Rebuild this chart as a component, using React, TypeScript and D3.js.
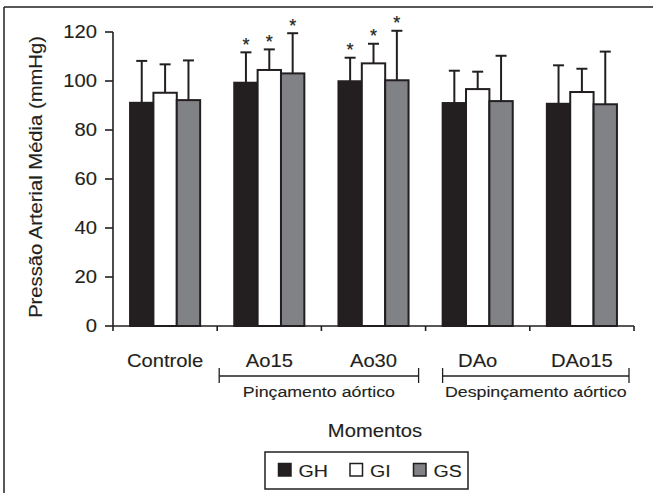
import React from "react";
import * as d3 from "d3";

const categories = ["Controle", "Ao15", "Ao30", "DAo", "DAo15"];
const seriesNames = ["GH", "GI", "GS"];
const ghMean = [91.1, 99.3, 99.9, 91.0, 90.7];
const giMean = [95.2, 104.5, 107.2, 96.7, 95.5];
const gsMean = [92.2, 103.1, 100.3, 91.8, 90.5];
const ghSd = [17.1, 12.4, 9.6, 13.2, 15.7];
const giSd = [11.6, 8.4, 8.0, 7.1, 9.5];
const gsSd = [16.2, 16.4, 20.2, 18.5, 21.5];
const significant = [false, true, true, false, false];
const yTicks = [0, 20, 40, 60, 80, 100, 120];
const bracketLabels = ["Pinçamento aórtico", "Despinçamento aórtico"];
const bracketStart = ["Ao15", "DAo"];
const bracketEnd = ["Ao30", "DAo15"];
const yTitle = "Pressão Arterial Média (mmHg)";
const xTitle = "Momentos";

const means = [ghMean, giMean, gsMean];
const sds = [ghSd, giSd, gsSd];
const colors = ["#231f20", "#ffffff", "#808285"];
const INK = "#231f20";
const FONT = "'Liberation Sans', Arial, sans-serif";
const SX = 1.155;

const left = 113, right = 634, top = 32, bottom = 326;

export default function App() {
  const x0 = d3.scaleBand<string>().domain(categories).range([left, right]).padding(0);
  const x1 = d3.scaleBand<string>().domain(seriesNames).range([0, x0.bandwidth()]).paddingInner(0).paddingOuter(0.73);
  const y = d3.scaleLinear().domain([0, 120]).range([bottom, top]);
  const bw = x1.bandwidth();

  const txt = (s: string, x: number, yy: number, size: number, anchor = "middle", rot = 0) => (
    <text
      transform={`translate(${x},${yy})${rot ? ` rotate(${rot})` : ""} scale(${SX},1)`}
      textAnchor={anchor}
      fontSize={size}
      fontFamily={FONT}
      fill={INK}
      stroke={INK}
      strokeWidth={0.12}
    >
      {s}
    </text>
  );

  const bracketInsets = [[2, 7], [17, 5]];

  return (
    <svg width={653} height={493} style={{ position: "absolute", left: 0, top: 0 }}>
      <rect x={0} y={0} width={653} height={493} fill="#fff" />
      {/* frame */}
      <line x1={4} y1={7} x2={653} y2={7} stroke={INK} strokeWidth={1.5} />
      <line x1={4} y1={7} x2={4} y2={493} stroke={INK} strokeWidth={1.5} />

      {/* bars */}
      {categories.map((c, ci) => (
        <g key={c} transform={`translate(${x0(c)},0)`}>
          {seriesNames.map((s, si) => {
            const v = means[si][ci];
            const e = v + sds[si][ci];
            const bx = x1(s)!;
            const cx = bx + bw / 2;
            return (
              <g key={s}>
                <line x1={cx} x2={cx} y1={y(v)} y2={y(e)} stroke={INK} strokeWidth={2} />
                <line x1={cx - 5.5} x2={cx + 5.5} y1={y(e)} y2={y(e)} stroke={INK} strokeWidth={2} />
                <rect x={bx} y={y(v)} width={bw} height={y(0) - y(v)} fill={colors[si]} stroke={INK} strokeWidth={2} />
                {significant[ci] && (
                  <text x={cx} y={y(e) - 1.5} textAnchor="middle" fontSize={18} fontFamily={FONT} fill={INK} stroke={INK} strokeWidth={0.2}>*</text>
                )}
              </g>
            );
          })}
        </g>
      ))}

      {/* y axis */}
      <line x1={left} x2={left} y1={top} y2={bottom} stroke={INK} strokeWidth={1.6} />
      {yTicks.map((t) => (
        <g key={t}>
          <line x1={left - 8} x2={left} y1={y(t)} y2={y(t)} stroke={INK} strokeWidth={1.6} />
          {txt(String(t), 97, y(t) + 6.3, 17.5, "end")}
        </g>
      ))}

      {/* x axis */}
      <line x1={left} x2={right} y1={bottom} y2={bottom} stroke={INK} strokeWidth={1.6} />
      {[...categories.map((c) => x0(c)!), right].map((px, i) => (
        <line key={i} x1={px} x2={px} y1={bottom} y2={bottom + 5} stroke={INK} strokeWidth={1.6} />
      ))}
      {categories.map((c) => (
        <g key={c}>{txt(c, x0(c)! + x0.bandwidth() / 2, 367, 17.5)}</g>
      ))}

      {/* brackets */}
      {bracketLabels.map((lab, i) => {
        const a = x0(bracketStart[i])! + bracketInsets[i][0];
        const b = x0(bracketEnd[i])! + x0.bandwidth() - bracketInsets[i][1];
        return (
          <g key={lab}>
            <line x1={a} x2={b} y1={376} y2={376} stroke={INK} strokeWidth={1.3} />
            <line x1={a} x2={a} y1={368} y2={383} stroke={INK} strokeWidth={1.3} />
            <line x1={b} x2={b} y1={368} y2={383} stroke={INK} strokeWidth={1.3} />
            {txt(lab, (a + b) / 2, 397, 15.4)}
          </g>
        );
      })}

      {/* titles */}
      {txt(xTitle, 375, 437, 17.5)}
      {txt(yTitle, 42, 177, 17.5, "middle", -90)}

      {/* legend */}
      <rect x={265} y={452} width={203} height={37} fill="none" stroke={INK} strokeWidth={1.5} />
      {seriesNames.map((s, i) => {
        const lx = [278.5, 350, 413.5][i];
        return (
          <g key={s}>
            <rect x={lx} y={463.5} width={12.5} height={12.5} fill={colors[i]} stroke={INK} strokeWidth={1.5} />
            {txt(s, lx + 20, 476.5, 17, "start")}
          </g>
        );
      })}
    </svg>
  );
}
